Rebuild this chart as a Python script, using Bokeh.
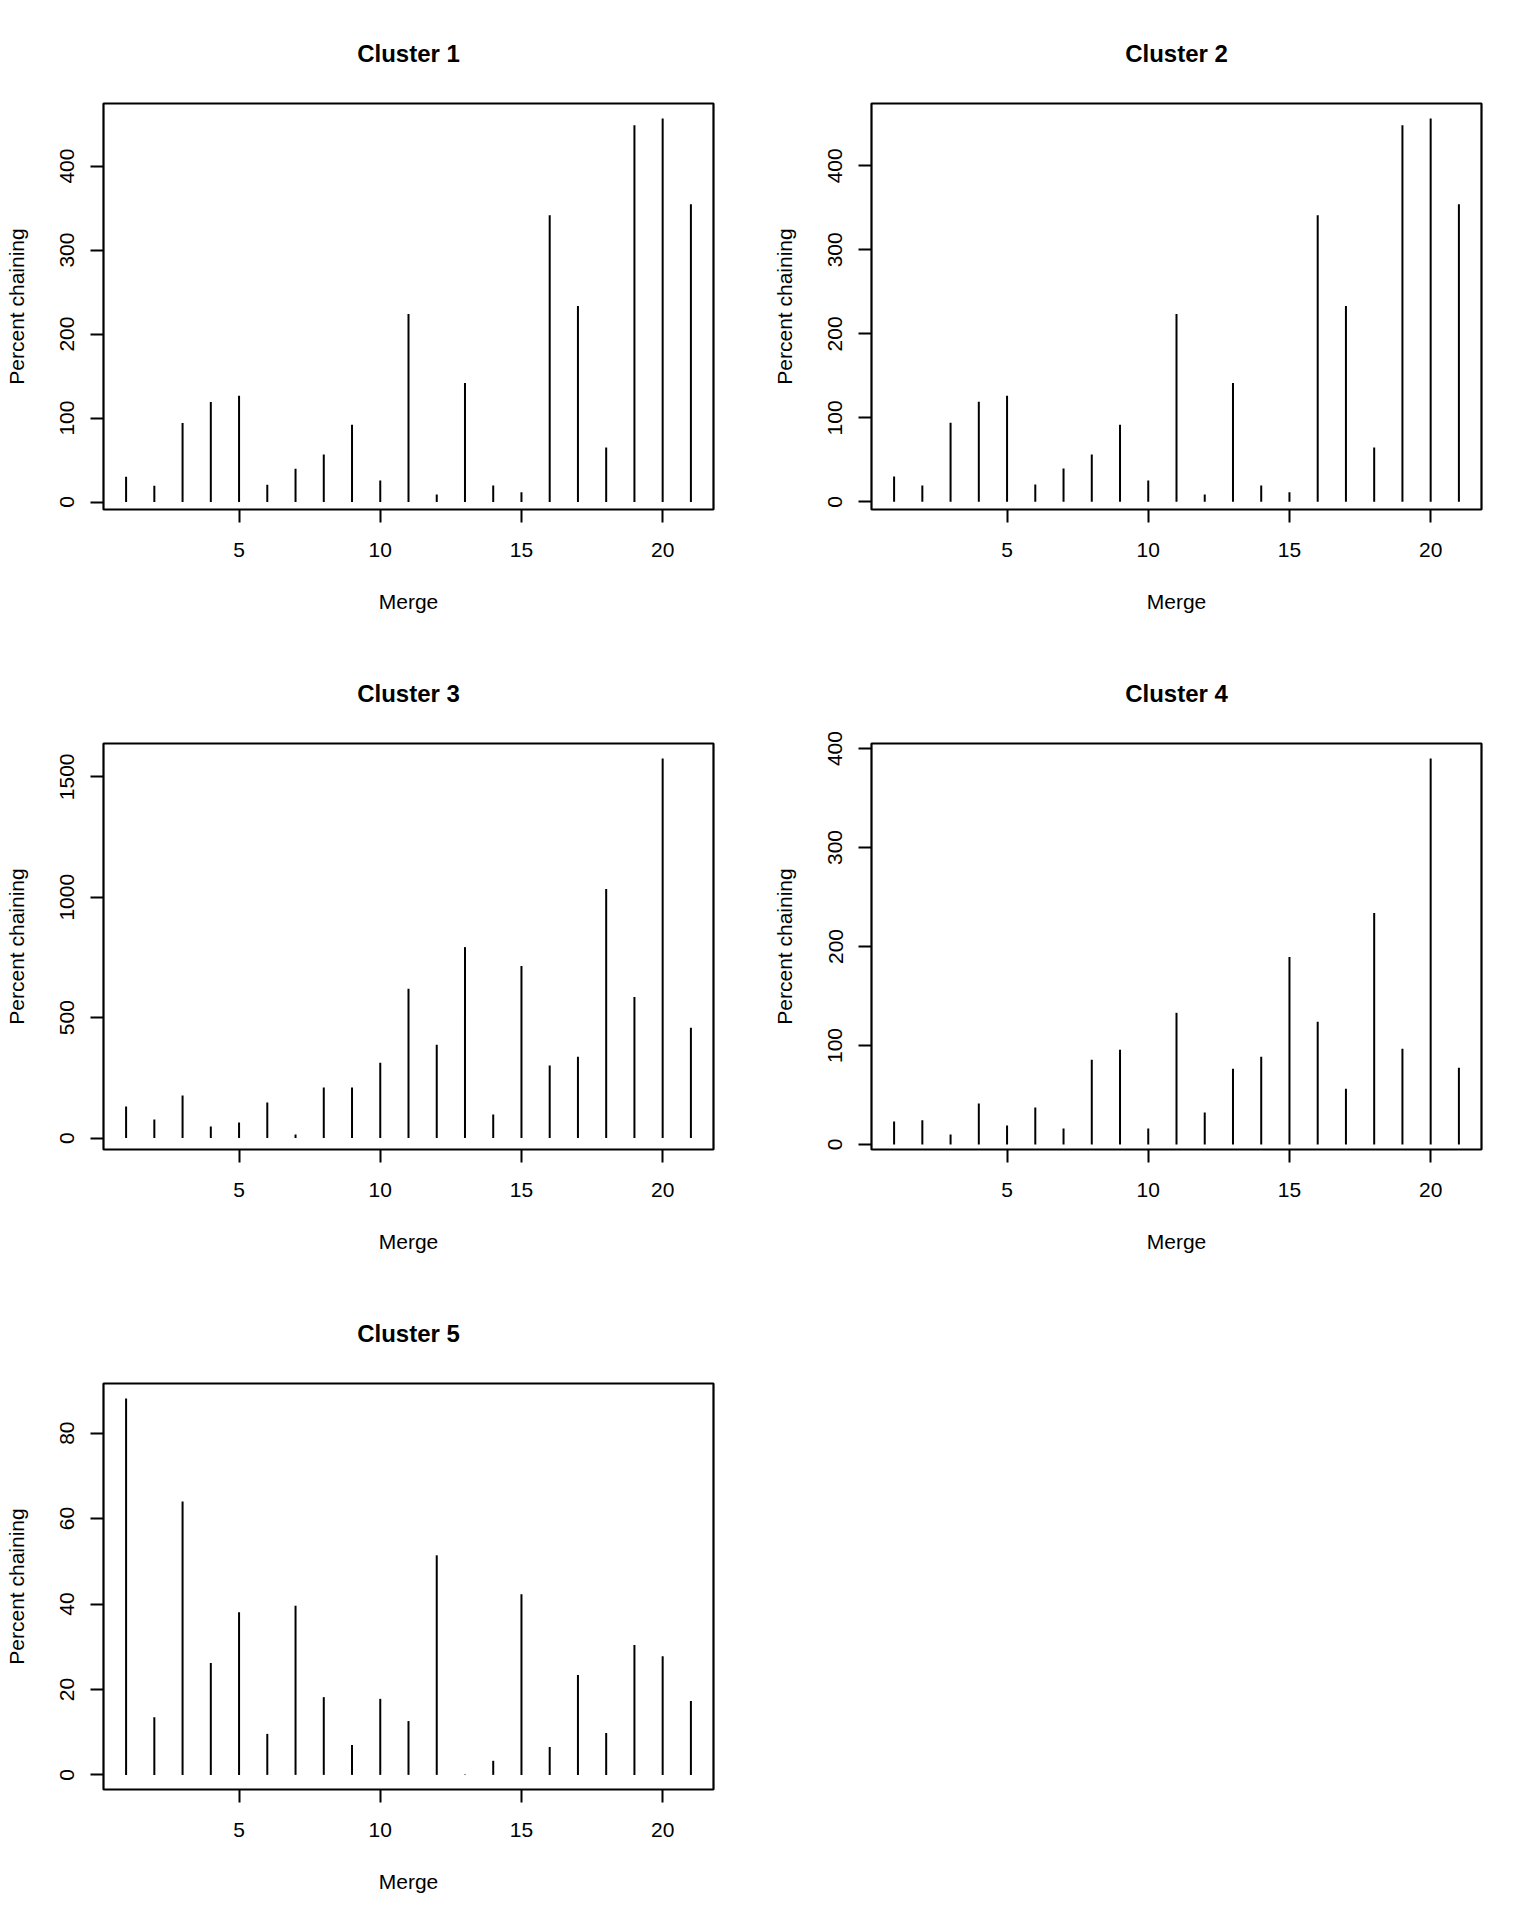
import math
from bokeh.plotting import figure
from bokeh.layouts import column, row
from bokeh.models import FixedTicker, Range1d, ColumnDataSource, Spacer
from bokeh.embed import file_html
from bokeh.resources import INLINE

merge = list(range(1, 22))
cluster1 = [30.1, 19.4, 94.2, 119.1, 126.6, 20.6, 39.6, 56.5, 92.0, 25.5, 223.8,
            9.0, 141.6, 19.8, 11.5, 341.4, 233.5, 65.0, 448.6, 456.6, 354.5]
cluster2 = [30.1, 19.4, 94.2, 119.1, 126.4, 20.6, 39.6, 56.3, 91.8, 25.3, 223.5,
            8.8, 141.6, 19.5, 11.3, 341.2, 233.2, 64.6, 448.4, 456.3, 354.3]
cluster3 = [131, 77, 177, 48, 65, 148, 15, 210, 210, 313, 620,
            388, 793, 98, 715, 301, 338, 1034, 586, 1576, 458]
cluster4 = [23.2, 24.5, 10.1, 41.3, 19.1, 37.3, 16.1, 85.6, 95.7, 16.1, 133.0,
            32.2, 76.6, 88.7, 189.4, 123.9, 56.4, 233.8, 96.7, 389.9, 77.6]
cluster5 = [88.1, 13.5, 64.0, 26.2, 38.1, 9.6, 39.6, 18.2, 7.0, 17.8, 12.6,
            51.4, 0.1, 3.3, 42.3, 6.5, 23.4, 9.8, 30.4, 27.8, 17.3]

titles = ["Cluster 1", "Cluster 2", "Cluster 3", "Cluster 4", "Cluster 5"]
series = [cluster1, cluster2, cluster3, cluster4, cluster5]
y_ticks = [[0, 100, 200, 300, 400], [0, 100, 200, 300, 400],
           [0, 500, 1000, 1500], [0, 100, 200, 300, 400], [0, 20, 40, 60, 80]]
x_ticks = [5, 10, 15, 20]
x_label = "Merge"
y_label = "Percent chaining"

FONT = "Liberation Sans"


def make_panel(title, values, yt, width, height, b_left, b_right, b_top, b_bottom):
    lo, hi = min(values), max(values)
    pad = 0.04 * (hi - lo)
    xlo, xhi = min(merge), max(merge)
    xpad = 0.04 * (xhi - xlo)
    p = figure(width=width, height=height, output_backend="svg", toolbar_location=None,
               x_range=Range1d(xlo - xpad, xhi + xpad), y_range=Range1d(lo - pad, hi + pad),
               min_border_left=b_left, min_border_right=b_right,
               min_border_top=b_top, min_border_bottom=b_bottom,
               background_fill_color="white", border_fill_color="white")
    src = ColumnDataSource(dict(x=merge, y0=[0] * len(values), y1=values))
    p.segment(x0="x", y0="y0", x1="x", y1="y1", source=src, line_color="black", line_width=2)

    p.xgrid.visible = False
    p.ygrid.visible = False
    p.outline_line_color = "black"
    p.outline_line_width = 2.2
    p.outline_line_alpha = 1.0

    p.title.text = title
    p.title.align = "center"
    p.title.text_font = FONT
    p.title.text_font_size = "24px"
    p.title.text_font_style = "bold"
    p.title.text_color = "black"
    p.title.standoff = 73

    for ax in (p.xaxis[0], p.yaxis[0]):
        ax.axis_line_color = None
        ax.major_tick_out = 13
        ax.major_tick_in = 0
        ax.major_tick_line_width = 2
        ax.major_tick_line_color = "black"
        ax.minor_tick_line_color = None
        ax.major_label_text_font = FONT
        ax.major_label_text_font_size = "21px"
        ax.major_label_text_color = "black"
        ax.axis_label_text_font = FONT
        ax.axis_label_text_font_size = "21px"
        ax.axis_label_text_font_style = "normal"
        ax.axis_label_text_color = "black"

    p.xaxis.ticker = FixedTicker(ticks=x_ticks)
    p.xaxis.axis_label = x_label
    p.xaxis.major_label_standoff = 20
    p.xaxis.axis_label_standoff = 30

    p.yaxis.ticker = FixedTicker(ticks=yt)
    p.yaxis.axis_label = y_label
    p.yaxis.major_label_orientation = "parallel"
    p.yaxis.major_label_standoff = 16
    p.yaxis.axis_label_standoff = 30
    return p


p1 = make_panel(titles[0], series[0], y_ticks[0], 768, 640, 103, 55, 103, 131)
p2 = make_panel(titles[1], series[1], y_ticks[1], 760, 640, 103, 47, 103, 131)
p3 = make_panel(titles[2], series[2], y_ticks[2], 768, 640, 103, 55, 103, 131)
p4 = make_panel(titles[3], series[3], y_ticks[3], 760, 640, 103, 47, 103, 131)
p5 = make_panel(titles[4], series[4], y_ticks[4], 768, 632, 103, 55, 103, 123)

layout = column(row(p1, p2), row(p3, p4), row(p5, Spacer(width=760, height=632)))

open("out.html", "w").write(file_html(layout, INLINE))
